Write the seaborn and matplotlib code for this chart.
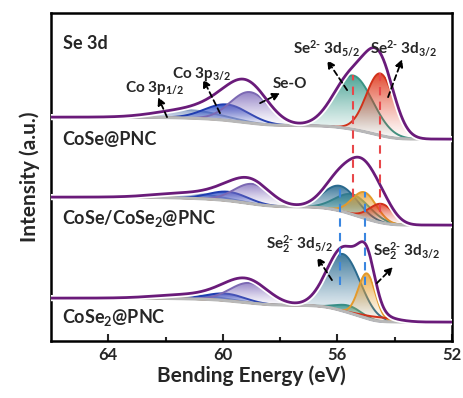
import numpy as np
import pandas as pd
import matplotlib
matplotlib.use("Agg")
import matplotlib.pyplot as plt
import matplotlib.patheffects as pe
from matplotlib.colors import to_rgb
import seaborn as sns

# Fitted components per sample: centre (eV), height (a.u.), FWHM (eV)
COMPONENTS = ["Co 3p1/2", "Co 3p3/2", "Se-O", "Se2- 3d5/2", "Se22- 3d5/2",
              "Se22- 3d3/2", "Se2- 3d3/2"]
COMP_COLORS = ["#93a8cc", "#2447c4", "#8c7ac2", "#3f9e8e", "#2f6f94",
               "#eaa53a", "#e03a1e"]
LINE_COLORS = ["#8aa0c4", "#1f3db0", "#7c69b3", "#3b9585", "#2a6a8e",
               "#e39a2c", "#d1321a"]

cose_center = [61.2, 59.85, 59.05, 55.45, 55.9, 55.05, 54.5]
cose_height = [8, 16, 31, 54, 0, 0, 62]
cose_fwhm = [2.6, 1.8, 1.6, 1.6, 1.4, 1.0, 1.15]

mix_center = [61.2, 59.8, 58.95, 55.45, 55.9, 55.05, 54.45]
mix_height = [5, 9, 20, 20, 25, 26, 19]
mix_fwhm = [2.6, 1.6, 1.5, 1.4, 1.4, 1.0, 1.0]

cose2_center = [61.2, 59.9, 59.05, 55.6, 55.8, 54.97, 54.5]
cose2_height = [4, 7, 20, 7, 57, 45, 4]
cose2_fwhm = [2.6, 1.6, 1.6, 1.0, 1.4, 0.7, 1.4]

# Shirley background levels (high-BE side, low-BE side)
bg_left = [224, 144, 43]
bg_right = [202, 116, 19]

SAMPLES = ["CoSe@PNC", "CoSe/CoSe$_2$@PNC", "CoSe$_2$@PNC"]

energy = np.linspace(52, 66, 1401)


def gauss(x, c, h, w):
    s = w / 2.3548
    return h * np.exp(-(x - c) ** 2 / (2 * s ** 2))


def shirley(x, total, left, right):
    cum = np.concatenate([[0], np.cumsum((total[1:] + total[:-1]) / 2 * np.diff(x))])
    return right + (left - right) * cum / cum[-1]


def gradient_fill(ax, x, lower, upper, color, zorder):
    poly = ax.fill_between(x, lower, upper, facecolor="none", edgecolor="none",
                           zorder=zorder)
    mask = (upper - lower) > 0.05
    if not mask.any():
        return
    rgba = np.zeros((120, 1, 4))
    rgba[:, :, :3] = to_rgb(color)
    rgba[:, 0, 3] = np.linspace(0.03, 0.95, 120) ** 1.3
    im = ax.imshow(rgba, aspect="auto", origin="lower", zorder=zorder,
                   extent=[x[mask].min(), x[mask].max(), lower[mask].min(),
                           upper[mask].max()])
    im.set_clip_path(poly.get_paths()[0], transform=ax.transData)


sns.set_theme(style="ticks")
plt.rcParams["font.family"] = ["Lato", "DejaVu Sans"]
plt.rcParams["font.weight"] = "bold"
plt.rcParams["mathtext.fontset"] = "custom"
plt.rcParams["mathtext.rm"] = "Lato:bold"
plt.rcParams["mathtext.it"] = "Lato:bold"
plt.rcParams["mathtext.bf"] = "Lato:bold"
plt.rcParams["mathtext.default"] = "rm"

fig, ax = plt.subplots(figsize=(4.64, 3.98), dpi=100)
fig.subplots_adjust(left=0.11, right=0.974, top=0.967, bottom=0.143)

params = [(cose_center, cose_height, cose_fwhm),
          (mix_center, mix_height, mix_fwhm),
          (cose2_center, cose2_height, cose2_fwhm)]

rows = []
tops = []
for k, (cen, hei, fw) in enumerate(params):
    comps = [gauss(energy, c, h, w) for c, h, w in zip(cen, hei, fw)]
    total = np.sum(comps, axis=0)
    bg = shirley(energy, total, bg_left[k], bg_right[k])
    tops.append([bg[np.argmin(abs(energy - c))] + h for c, h in zip(cen, hei)])
    z = 2 + k * 0.1
    for i, comp in enumerate(comps):
        if hei[i] <= 0:
            continue
        gradient_fill(ax, energy, bg, bg + comp, COMP_COLORS[i], z + i * 0.01)
        ax.plot(energy, bg + comp, color=LINE_COLORS[i], lw=1.4,
                zorder=z + i * 0.01 + 0.005)
    ax.plot(energy, bg, color="#b8b8b8", lw=2.2, zorder=z + 0.09)
    rows.append(pd.DataFrame({"energy": energy, "intensity": bg + total,
                              "sample": SAMPLES[k]}))

df = pd.concat(rows, ignore_index=True)
sns.lineplot(data=df, x="energy", y="intensity", hue="sample",
             palette=["#6a1b7a"] * 3, lw=2, legend=False, ax=ax, zorder=5,
             estimator=None, sort=False,
             path_effects=[pe.Stroke(linewidth=4.5, foreground="white"),
                           pe.Normal()])

# dashed guides linking the doublets between samples
dash = dict(ls=(0, (4, 3)), lw=1.5, zorder=6)
ax.vlines([cose_center[3]], 144, tops[0][3], color="#e8474a", **dash)
ax.vlines([cose_center[6]], 129, tops[0][6], color="#e8474a", **dash)
ax.vlines([mix_center[4]], 56, tops[1][4], color="#3a86e0", **dash)
ax.vlines([mix_center[5]], 56, tops[1][5], color="#3a86e0", **dash)

# peak labels with dashed arrows
labels = [
    (r"Co 3p$_{1/2}$", (62.37, 244), (62.26, 244), (61.95, 224)),
    (r"Co 3p$_{3/2}$", (60.73, 258), (60.69, 262), (60.10, 228)),
    (r"Se-O", (57.66, 250), (58.0, 248), (58.70, 238)),
    (r"Se$^{2\text{-}}$ 3d$_{5/2}$", (56.36, 283), (56.36, 281), (55.66, 251)),
    (r"Se$^{2\text{-}}$ 3d$_{3/2}$", (53.7, 283), (53.74, 282), (54.23, 244)),
    (r"Se$_2^{2\text{-}}$ 3d$_{5/2}$", (57.31, 86), (56.71, 84), (56.19, 61)),
    (r"Se$_2^{2\text{-}}$ 3d$_{3/2}$", (53.57, 79), (54.06, 74), (54.62, 58)),
]
for text, tpos, head, tail in labels:
    ax.text(*tpos, text, ha="center", va="bottom", fontsize=11,
            fontweight="bold", zorder=8)
    ax.annotate("", xy=head, xytext=tail, zorder=8,
                arrowprops=dict(arrowstyle="-|>", ls=(0, (3, 2)), lw=1.3,
                                color="black", mutation_scale=11,
                                shrinkA=0, shrinkB=0))

ax.text(65.58, 298, "Se 3d", ha="left", va="center", fontsize=13,
        fontweight="bold", zorder=8)
for k, y in enumerate([202, 123, 24]):
    ax.text(65.62, y, SAMPLES[k], ha="left", va="center", fontsize=13,
            fontweight="bold", zorder=8)

ax.set_xlim(66, 52)
ax.set_ylim(0, 328)
ax.set_xticks([64, 60, 56, 52])
ax.set_xticks([62, 58, 54], minor=True)
ax.set_yticks([])
ax.tick_params(axis="x", which="major", direction="in", length=5, width=1.5,
               labelsize=12, pad=4)
ax.tick_params(axis="x", which="minor", direction="in", length=3, width=1.5)
for lbl in ax.get_xticklabels():
    lbl.set_fontweight("bold")
for s in ax.spines.values():
    s.set_linewidth(1.8)
    s.set_color("black")
ax.set_xlabel("Bending Energy (eV)", fontsize=15, fontweight="bold", labelpad=2)
ax.set_ylabel("Intensity (a.u.)", fontsize=15, fontweight="bold", labelpad=8)

fig.savefig("out.png", dpi=100)
plt.close(fig)
